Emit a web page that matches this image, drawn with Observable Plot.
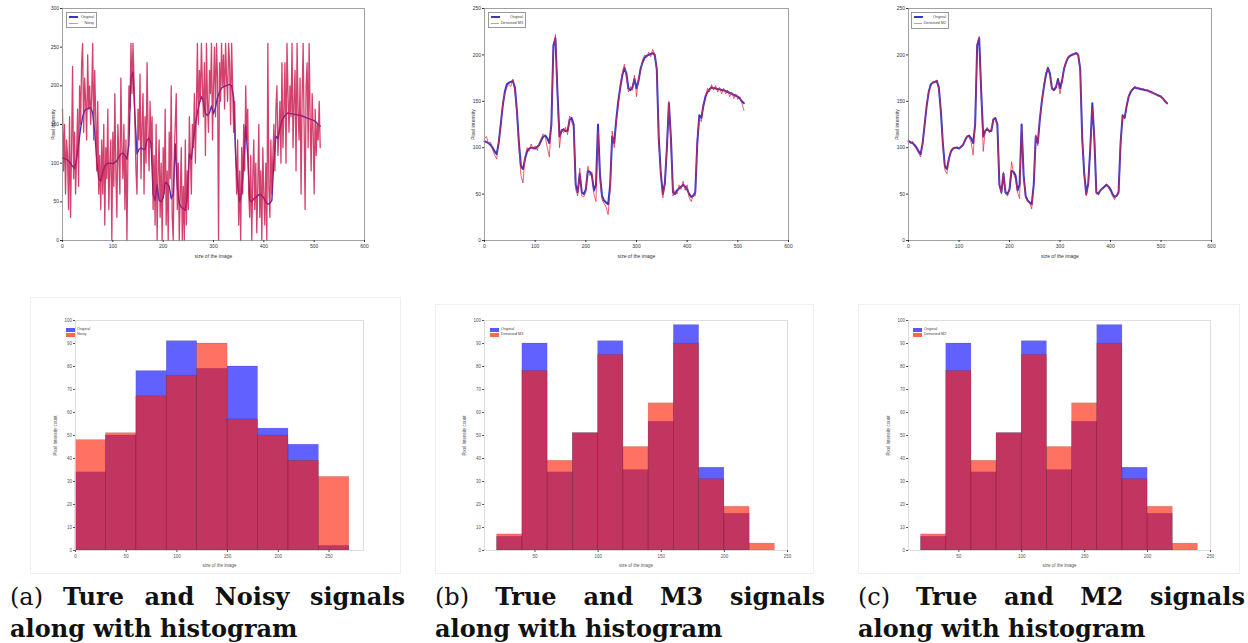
<!DOCTYPE html>
<html><head><meta charset="utf-8">
<script src="https://cdn.jsdelivr.net/npm/d3@7"></script>
<script src="https://cdn.jsdelivr.net/npm/@observablehq/plot@0.6"></script>
<style>
body{margin:0;background:#fff;width:1248px;height:643px;position:relative;overflow:hidden;font-family:"Liberation Sans",Arial,sans-serif}
.p{position:absolute}
.frame{position:absolute;border:1px solid #efefef;box-sizing:border-box}
.leg{position:absolute;border:1px solid #999;background:#fff;box-sizing:border-box;font-size:3.8px;color:#444;padding:1px 2px;line-height:6px;white-space:nowrap}
.leg .row{display:flex;align-items:center;gap:2px;justify-content:space-between}
.leg .sw{display:inline-block;width:9px}
.hleg{position:absolute;font-size:3.8px;color:#444;line-height:5px;white-space:nowrap}
.hleg .row{display:flex;align-items:center;gap:2px}
.hleg .sw{display:inline-block;width:9px;height:4px}
.cap{position:absolute;font-family:"DejaVu Serif",serif;font-size:24px;color:#111;line-height:31px}
.cap .l1{text-align:justify;text-align-last:justify}
.cap .n{font-weight:normal}
.cap b{font-weight:bold}
</style></head><body>
<script>
// ---- data ----
const sampleStep = 4;        // original / denoised series sampled every 4 pixels
const noisyStep = 2;         // noisy series sampled every 2 pixels
const original = [107,106,105,103,100,96,93,105,125,145,
  160,168,170,171,172,165,140,105,80,77,
  88,96,99,100,100,99,101,103,108,112,
  113,110,105,125,210,218,160,112,118,120,
  118,118,130,132,125,60,52,72,52,50,
  55,75,74,70,54,60,125,70,48,43,
  41,39,60,112,105,130,150,165,178,186,
  180,164,162,165,174,164,172,185,192,197,
  199,200,201,202,200,185,110,72,50,62,
  100,148,110,52,50,54,56,58,60,58,
  55,50,47,48,52,105,135,132,145,155,
  160,163,165,164,164,163,163,162,162,161,
  160,159,158,157,156,155,153,150,148];
const denoisedM3 = [110,112,104,106,98,92,88,108,122,148,
  158,165,168,166,174,160,138,100,70,62,
  90,100,96,104,98,102,97,105,110,115,
  112,100,90,128,208,222,155,100,120,116,
  122,114,134,128,122,55,48,78,48,47,
  52,80,70,74,50,42,118,65,44,40,
  36,28,55,118,100,128,145,168,180,190,
  176,160,166,162,178,155,175,182,195,200,
  197,203,198,206,201,182,105,70,46,60,
  102,150,105,48,54,50,60,55,64,54,
  60,46,42,50,48,110,132,128,148,152,
  164,160,168,162,167,160,165,158,164,158,
  162,155,160,153,158,152,155,148,140];
const denoisedM2 = [109,104,107,101,99,94,90,104,126,146,
  161,166,171,170,173,163,141,103,76,72,
  86,97,100,99,101,100,100,104,109,113,
  111,106,92,124,212,220,158,96,119,122,
  116,120,132,131,123,62,50,74,50,48,
  56,85,72,66,52,45,122,68,46,42,
  40,34,62,114,102,132,148,167,181,184,
  178,163,164,166,172,158,170,186,193,198,
  200,201,200,203,201,184,108,71,48,61,
  98,142,112,50,52,53,57,59,61,57,
  53,48,44,49,50,106,134,131,146,156,
  161,164,166,165,163,164,162,163,161,162,
  159,160,157,158,155,156,152,151,147];
const noisy = [
  170,90,150,60,130,110,40,160,30,120,225,80,140,60,110,170,70,200,150,230,
  255,140,210,180,130,240,170,200,150,190,255,130,220,160,90,180,60,110,40,130,
  60,150,20,120,80,170,40,100,130,0,140,70,190,90,30,150,110,60,210,120,
  80,150,40,130,0,110,200,170,255,190,255,210,150,90,60,170,130,215,80,150,
  190,60,160,100,230,140,90,180,120,160,40,110,20,150,0,90,130,30,100,0,
  120,60,170,20,90,0,140,80,200,30,0,110,150,190,40,100,0,60,120,0,
  70,0,130,20,90,40,160,110,60,150,120,190,100,170,255,150,220,180,255,200,
  160,230,110,255,180,140,220,190,255,130,200,250,160,255,210,0,230,180,255,200,
  240,170,255,210,180,255,230,150,255,200,140,180,110,60,130,20,90,0,120,60,
  150,90,200,130,170,60,30,110,0,80,130,40,100,10,70,150,30,90,0,120,
  60,20,100,0,255,70,30,130,60,110,150,90,170,200,110,140,180,100,230,120,
  170,230,100,255,190,140,200,160,255,120,180,220,90,255,170,130,210,60,180,255,
  150,40,200,230,120,255,160,90,190,140,60,170,110,150,130,180,120];

const topXTicks = [0,100,200,300,400,500,600];
const topYTicksA = [0,50,100,150,200,250,300];
const topYTicksBC = [0,50,100,150,200,250];

const histEdgesA = [0,30,60,90,120,150,180,210,240,270];
const histOrigA = [34,50,78,91,79,80,53,46,2];
const histNoisyA = [48,51,67,76,90,57,50,39,32];
const histEdgesBC = [20,40,60,80,100,120,140,160,180,200,220,240];
const histOrigBC = [6,90,34,51,91,35,56,98,36,16,0];
const histM3 = [7,78,39,51,85,45,64,90,31,19,3];
const histM2 = [7,78,39,51,85,45,64,90,31,19,3];
const histYTicks = [0,10,20,30,40,50,60,70,80,90,100];
const histXTicksA = [0,50,100,150,200,250];
const histXTicksBC = [50,100,150,200,250];

const captions = [
  {tag:"(a)", l1:"Ture and Noisy signals", l2:"along with histogram"},
  {tag:"(b)", l1:"True and M3 signals", l2:"along with histogram"},
  {tag:"(c)", l1:"True and M2 signals", l2:"along with histogram"}
];

// ---- helpers ----
function place(el, left, top){
  const d = document.createElement("div");
  d.className = "p"; d.style.left = left+"px"; d.style.top = top+"px";
  d.appendChild(el); document.body.appendChild(d); return d;
}
function html(str, cls, style){
  const d = document.createElement("div");
  if (cls) d.className = cls;
  if (style) d.setAttribute("style", style);
  d.innerHTML = str; document.body.appendChild(d); return d;
}
const BLUE = "#3a36c4", RED = "#e2243e";

function linePlot({ser, serStep, yMax, yTicks, ml, mr, ylOff, blueW, redW, redOp, redColor}){
  const a = original.map((v,i)=>({x:i*sampleStep, y:v}));
  const b = ser.map((v,i)=>({x:i*serStep, y:v}));
  return Plot.plot({
    width:350, height:270, marginLeft:ml, marginRight:mr, marginTop:8, marginBottom:30,
    style:{fontFamily:"Liberation Sans, Arial", fontSize:"5px", color:"#333", background:"transparent"},
    x:{domain:[0,600]}, y:{domain:[0,yMax]},
    marks:[
      Plot.line(a,{x:"x",y:"y",stroke:BLUE,strokeWidth:blueW}),
      Plot.line(b,{x:"x",y:"y",stroke:redColor,strokeWidth:redW,strokeOpacity:redOp}),
      Plot.frame({stroke:"#8a8a8a",strokeWidth:0.8}),
      Plot.axisX({ticks:topXTicks,tickSize:2,tickPadding:1.5,fontSize:5,label:"size of the image",labelAnchor:"center",labelOffset:17,labelArrow:false}),
      Plot.axisY({ticks:yTicks,tickSize:2,tickPadding:1.5,fontSize:5,label:"Pixel intensity",labelAnchor:"center",labelOffset:ylOff,labelArrow:false})
    ]
  });
}
function histPlot({edges, orig, other, xDomain, xTicks, ml, mr}){
  const o = orig.map((v,i)=>({x1:edges[i],x2:edges[i+1],y:v}));
  const r = other.map((v,i)=>({x1:edges[i],x2:edges[i+1],y:v}));
  return Plot.plot({
    width:350, height:272, marginLeft:ml, marginRight:mr, marginTop:20, marginBottom:22,
    style:{fontFamily:"Liberation Sans, Arial", fontSize:"4.5px", color:"#555", background:"transparent"},
    x:{domain:xDomain}, y:{domain:[0,100]},
    marks:[
      Plot.rectY(o,{x1:"x1",x2:"x2",y:"y",fill:"#0000ff",fillOpacity:0.62,stroke:"#000",strokeOpacity:0.18,strokeWidth:0.6}),
      Plot.rectY(r,{x1:"x1",x2:"x2",y:"y",fill:"#ff1a00",fillOpacity:0.62,stroke:"#000",strokeOpacity:0.18,strokeWidth:0.6}),
      Plot.frame({stroke:"#d6d6d6",strokeWidth:0.8}),
      Plot.axisX({ticks:xTicks,tickSize:2,tickPadding:2,fontSize:4.5,label:"size of the image",labelAnchor:"center",labelOffset:16,labelArrow:false}),
      Plot.axisY({ticks:histYTicks,tickSize:2,tickPadding:1.5,fontSize:4.5,label:"Pixel Intensity count",labelAnchor:"center",labelOffset:22,labelArrow:false})
    ]
  });
}

// ---- frames around histogram images ----
html("", "frame", "left:30px;top:297px;width:371px;height:277px");
html("", "frame", "left:435px;top:304px;width:379px;height:270px");
html("", "frame", "left:858px;top:304px;width:382px;height:270px");

// ---- top line charts ----
place(linePlot({ser:noisy, serStep:noisyStep, yMax:300, yTicks:topYTicksA, ml:32, mr:16, ylOff:11, blueW:1.4, redW:1.3, redOp:0.8, redColor:"#c8124a"}), 30, 0);
place(linePlot({ser:denoisedM3, serStep:sampleStep, yMax:250, yTicks:topYTicksBC, ml:34, mr:12, ylOff:13, blueW:2, redW:0.9, redOp:0.8, redColor:RED}), 450, 0);
place(linePlot({ser:denoisedM2, serStep:sampleStep, yMax:250, yTicks:topYTicksBC, ml:34, mr:13, ylOff:13, blueW:2, redW:0.9, redOp:0.8, redColor:RED}), 874, 0);

// ---- histograms ----
place(histPlot({edges:histEdgesA, orig:histOrigA, other:histNoisyA, xDomain:[0,284], xTicks:histXTicksA, ml:35, mr:27}), 40, 300);
place(histPlot({edges:histEdgesBC, orig:histOrigBC, other:histM3, xDomain:[10,250], xTicks:histXTicksBC, ml:34, mr:13}), 450, 300);
place(histPlot({edges:histEdgesBC, orig:histOrigBC, other:histM2, xDomain:[10,250], xTicks:histXTicksBC, ml:34, mr:14}), 874, 300);

// ---- legends (top) ----
function topLegend(left, top, w, h, name2){
  html(`<div class="row"><span class="sw" style="border-top:2px solid ${BLUE}"></span><span>Original</span></div>
        <div class="row"><span class="sw" style="border-top:1px solid #f08aa0"></span><span>${name2}</span></div>`,
    "leg", `left:${left}px;top:${top}px;width:${w}px;height:${h}px`);
}
topLegend(66, 12, 31, 16, "Noisy");
topLegend(488, 12, 38, 16, "Denoised M3");
topLegend(911, 12, 38, 17, "Denoised M2");

function histLegend(left, top, name2){
  html(`<div class="row"><span class="sw" style="background:#5a58f0"></span><span>Original</span></div>
        <div class="row"><span class="sw" style="background:#ff6650"></span><span>${name2}</span></div>`,
    "hleg", `left:${left}px;top:${top}px`);
}
histLegend(66, 327, "Noisy");
histLegend(490, 327, "Denoised M3");
histLegend(913, 327, "Denoised M2");

// ---- captions ----
const capPos = [{left:10,width:395},{left:435,width:390},{left:858,width:387}];
captions.forEach((c,i)=>{
  html(`<div class="l1"><span class="n">${c.tag}</span> <b>${c.l1}</b></div><div><b>${c.l2}</b></div>`,
    "cap", `left:${capPos[i].left}px;top:581px;width:${capPos[i].width}px`);
});
</script>
</body></html>
